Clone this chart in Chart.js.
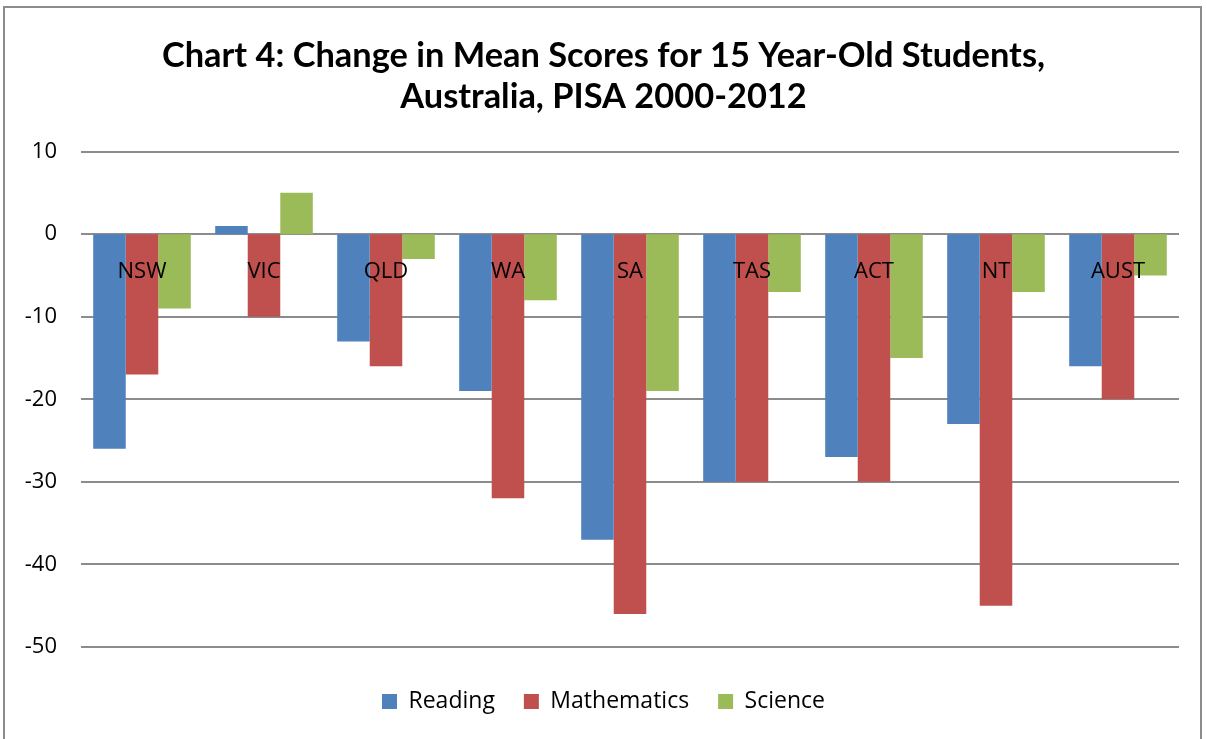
<!DOCTYPE html>
<html>
<head>
<meta charset="utf-8">
<script src="https://cdn.jsdelivr.net/npm/chart.js@4/dist/chart.umd.min.js"></script>
<style>
  html, body { margin: 0; padding: 0; background: #fff; }
  #wrap { position: relative; width: 1207px; height: 739px; overflow: hidden; }
  #frame { position: absolute; left: 3px; top: 6px; width: 1199px; height: 800px;
           border: 2px solid #8c8c8c; box-sizing: border-box; }
  canvas { position: absolute; left: 0; top: 0; }
</style>
</head>
<body>
<div id="wrap">
  <div id="frame"></div>
  <canvas id="c" width="1207" height="739"></canvas>
</div>
<script>
const categories = ["NSW", "VIC", "QLD", "WA", "SA", "TAS", "ACT", "NT", "AUST"];
const reading     = [-26, 1, -13, -19, -37, -30, -27, -23, -16];
const mathematics = [-17, -10, -16, -32, -46, -30, -30, -45, -20];
const science     = [-9, 5, -3, -8, -19, -7, -15, -7, -5];
const yTicks = [10, 0, -10, -20, -30, -40, -50];
const titleLines = ["Chart 4: Change in Mean Scores for 15 Year-Old Students,", "Australia, PISA 2000-2012"];

const FONT = "'Open Sans', 'Liberation Sans', sans-serif";

new Chart(document.getElementById('c'), {
  type: 'bar',
  data: {
    labels: categories,
    datasets: [
      { label: 'Reading', data: reading, backgroundColor: '#4F81BD' },
      { label: 'Mathematics', data: mathematics, backgroundColor: '#C0504D' },
      { label: 'Science', data: science, backgroundColor: '#9BBB59' }
    ]
  },
  options: {
    responsive: false,
    animation: false,
    devicePixelRatio: 1,
    layout: { padding: { left: 0, right: 0, top: 0, bottom: 16 } },
    datasets: { bar: { categoryPercentage: 0.8, barPercentage: 1.0 } },
    plugins: {
      title: {
        display: true,
        text: titleLines,
        color: '#000',
        font: { family: "Lato, 'Open Sans', sans-serif", size: 34.4, weight: 'bold', lineHeight: 1.2 },
        padding: { top: 35, bottom: 34 }
      },
      legend: {
        position: 'bottom',
        labels: {
          boxWidth: 15, boxHeight: 15, padding: 29,
          color: '#000',
          font: { family: FONT, size: 23 }
        }
      },
      tooltip: { enabled: false }
    },
    scales: {
      x: {
        position: { y: 0 },
        grid: { display: false },
        border: { display: false },
        ticks: { z: 1, color: '#000', font: { family: FONT, size: 22 }, padding: 16, maxRotation: 0 }
      },
      xPad: {
        type: 'category',
        position: 'bottom',
        display: true,
        grid: { display: false },
        border: { display: false },
        ticks: { display: false },
        afterFit: (s) => { s.height = 14; }
      },
      yPad: {
        type: 'linear',
        position: 'right',
        display: true,
        grid: { display: false },
        border: { display: false },
        ticks: { display: false },
        afterFit: (s) => { s.width = 28; }
      },
      y: {
        min: -50, max: 10,
        afterBuildTicks: (s) => { s.ticks = yTicks.map(v => ({ value: v })); },
        afterFit: (s) => { s.width = 81; },
        grid: { color: '#8c8c8c', lineWidth: 2, drawTicks: false },
        border: { display: false },
        ticks: { color: '#000', font: { family: FONT, size: 22 }, padding: 24 }
      }
    }
  }
});
</script>
</body>
</html>
